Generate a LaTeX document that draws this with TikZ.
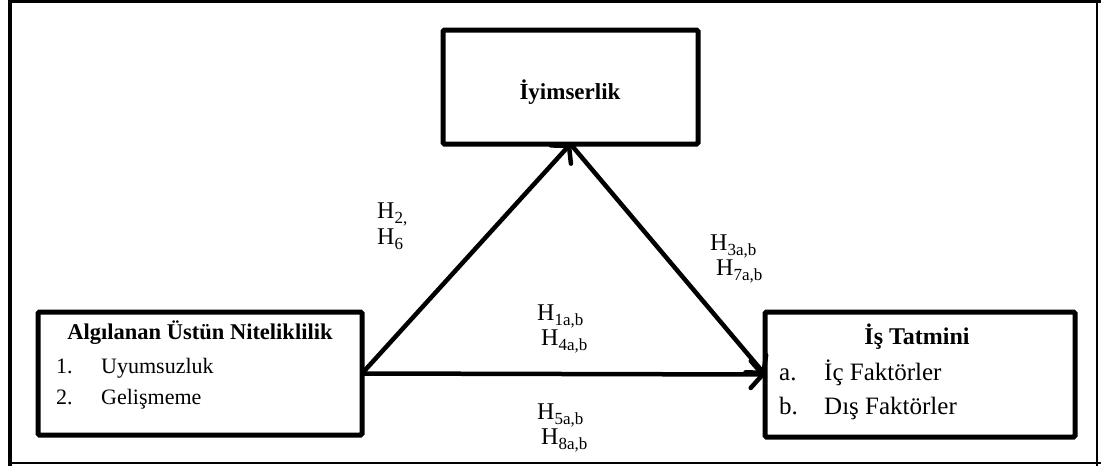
\documentclass[tikz,border=0pt]{standalone}
\usepackage{fontspec}
\setmainfont{Liberation Serif}
\usetikzlibrary{arrows.meta}
\newcommand{\sbs}[1]{\raisebox{-5pt}{\fontsize{17}{18}\selectfont #1}}
\begin{document}
\begin{tikzpicture}[x=1pt,y=-1pt,
  boxnode/.style={draw, line width=5pt, rounded corners=1.5pt, inner sep=0pt, outer sep=0pt},
  titletext/.style={font=\fontsize{23}{27}\selectfont\bfseries, inner sep=0pt},
  itemtext/.style={font=\fontsize{22}{26}\selectfont, inner sep=0pt, anchor=base west},
  hlabel/.style={font=\fontsize{24}{28}\selectfont, inner sep=0pt, anchor=base west},
  arrowline/.style={line width=4.5pt, -{Straight Barb[length=12pt,width=27pt,line cap=round,line join=round]}}]
\useasboundingbox (0,0) rectangle (1101,466);
\fill[white] (0,0) rectangle (1101,466);
% outer frame
\draw[line width=4.5pt] (10,0) -- (10,466);
\draw[line width=3.5pt] (8,1.5) -- (1101,1.5);
\draw[line width=2pt] (1097,0) -- (1097,466);
\draw[line width=2pt] (8,463) -- (1101,463);
% boxes
\node[boxnode, minimum width=324pt, minimum height=123pt] (als) at (200,373.5) {};
\node[boxnode, minimum width=255pt, minimum height=114pt] (iyi) at (570.5,87) {};
\node[boxnode, minimum width=310pt, minimum height=125pt] (ist) at (920,374.5) {};
% box texts
\node[titletext, font=\fontsize{22.5}{27}\selectfont\bfseries] (t1) at (200,333) {Algılanan Üstün Niteliklilik};
\node[itemtext] (n1) at (56,373) {1.};
\node[itemtext] (i1) at (101,373) {Uyumsuzluk};
\node[itemtext] (n2) at (56,404) {2.};
\node[itemtext] (i2) at (101,404) {Gelişmeme};
\node[titletext] (t2) at (570,92) {İyimserlik};
\node[titletext, font=\fontsize{24}{28}\selectfont\bfseries] (t3) at (917,337) {İş Tatmini};
\node[itemtext, font=\fontsize{25}{28}\selectfont] (na) at (779,380) {a.};
\node[itemtext, font=\fontsize{25}{28}\selectfont] (ia) at (824,380) {İç Faktörler};
\node[itemtext, font=\fontsize{25}{28}\selectfont] (nb) at (779,414) {b.};
\node[itemtext, font=\fontsize{25}{28}\selectfont] (ib) at (824,414) {Dış Faktörler};
% connectors
\draw[arrowline] (als.east) -- (iyi.south);
\draw[arrowline] (iyi.south) -- (ist.west);
\draw[arrowline] (als.east) -- (ist.west);
% labels
\node[hlabel] (h2) at (377,218) {H\sbs{2,}};
\node[hlabel] (h6) at (377,244) {H\sbs{6}};
\node[hlabel] (h3) at (710,250) {H\sbs{3a,b}};
\node[hlabel] (h7) at (716,275) {H\sbs{7a,b}};
\node[hlabel] (h1) at (537,320) {H\sbs{1a,b}};
\node[hlabel] (h4) at (541,345) {H\sbs{4a,b}};
\node[hlabel] (h5) at (537,419) {H\sbs{5a,b}};
\node[hlabel] (h8) at (541,444) {H\sbs{8a,b}};
\end{tikzpicture}
\end{document}
